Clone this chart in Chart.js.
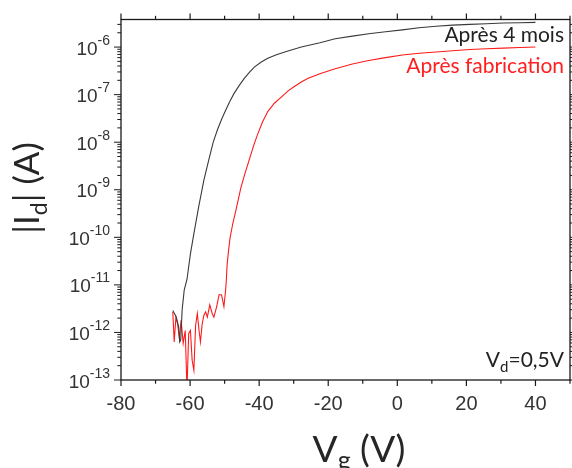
<!DOCTYPE html>
<html>
<head>
<meta charset="utf-8">
<script src="https://cdn.jsdelivr.net/npm/chart.js@4"></script>
<style>
  html, body { margin:0; padding:0; background:#fff; }
  canvas { display:block; }
</style>
</head>
<body>
<canvas id="c" width="572" height="468"></canvas>
<script>
// |Id| vs Vg
const vgApres4Mois = [-65.0,-64.0,-63.3,-63.0,-62.7,-62.3,-61.9,-61.7,-60.9,-60.4,-59.9,-58.9,-57.5,-56.0,-54.6,-53.3,-52.1,-50.9,-49.7,-48.5,-47.3,-45.8,-44.3,-42.9,-41.4,-39.5,-37.5,-35.0,-32.6,-30.2,-27.8,-22.4,-18.0,-13.0,-8.3,-3.4,1.5,6.3,11.2,16.0,21.0,25.8,30.7,35.5,40.0];
const idApres4Mois = [2.9e-12,2.1e-12,1.3e-12,6.3e-13,7e-13,3.0e-12,5.6e-12,7.8e-12,1.3e-11,2.4e-11,4.5e-11,1.2e-10,4.4e-10,1.6e-9,4.2e-9,1.0e-8,1.8e-8,3.0e-8,4.7e-8,7.2e-8,1.05e-7,1.55e-7,2.2e-7,2.9e-7,3.8e-7,4.8e-7,5.8e-7,6.9e-7,7.9e-7,8.9e-7,1.0e-6,1.23e-6,1.5e-6,1.7e-6,1.9e-6,2.1e-6,2.3e-6,2.55e-6,2.75e-6,2.9e-6,3.0e-6,3.1e-6,3.2e-6,3.25e-6,3.3e-6];

const vgFabrication = [-65.0,-64.6,-64.1,-63.6,-63.1,-62.6,-62.0,-61.4,-60.9,-60.4,-59.9,-59.4,-58.9,-58.4,-57.9,-57.4,-57.0,-56.5,-56.0,-55.5,-55.0,-54.3,-53.6,-53.1,-52.3,-51.6,-50.9,-50.2,-49.7,-49.5,-49.3,-48.9,-48.4,-47.6,-46.8,-45.3,-44.1,-42.9,-41.6,-40.4,-39.0,-37.5,-35.6,-33.6,-31.6,-29.7,-27.8,-25.8,-22.4,-18.0,-13.0,-8.3,-3.4,1.5,6.3,11.2,16.0,21.0,25.8,30.7,35.5,40.0];
const idFabrication = [2.7e-12,6.3e-13,2.1e-12,1.5e-12,7.6e-13,1.8e-12,5.9e-13,1.1e-12,6.3e-14,9.5e-13,1.1e-12,2.6e-13,1.6e-13,1.4e-12,2.5e-12,1.1e-12,6.3e-13,1.5e-12,2.3e-12,2.7e-12,2.1e-12,3.8e-12,2.5e-12,2.1e-12,3.5e-12,6.2e-12,6.2e-12,3.5e-12,7.9e-12,1.3e-11,2.5e-11,5e-11,1e-10,2e-10,3.5e-10,1.1e-9,2.2e-9,4.2e-9,8.5e-9,1.5e-8,2.7e-8,4.4e-8,6.6e-8,8.9e-8,1.2e-7,1.5e-7,1.85e-7,2.2e-7,2.75e-7,3.5e-7,4.4e-7,5.2e-7,6.0e-7,6.8e-7,7.4e-7,7.9e-7,8.4e-7,8.9e-7,9.2e-7,9.5e-7,9.8e-7,1.0e-6];

const xTicks = [-80,-60,-40,-20,0,20,40];
const xMinorTicks = [-70,-50,-30,-10,10,30,50];
const yDecades = [-13,-12,-11,-10,-9,-8,-7,-6];

const labelFont = '"Liberation Sans", Arial, sans-serif';
const textFont = 'Lato, "Open Sans", sans-serif';

// draw a run of text pieces (for sub/superscripts)
function drawRuns(ctx, runs, x, y, align){
  let w = 0;
  runs.forEach(r => { ctx.font = r.font; w += ctx.measureText(r.text).width; });
  let cx = align === 'right' ? x - w : align === 'center' ? x - w/2 : x;
  ctx.textAlign = 'left';
  ctx.textBaseline = 'alphabetic';
  runs.forEach(r => {
    ctx.font = r.font;
    ctx.fillText(r.text, cx, y + (r.dy || 0));
    cx += ctx.measureText(r.text).width;
  });
}

function seg(ctx, x1, y1, x2, y2){
  ctx.beginPath(); ctx.moveTo(x1,y1); ctx.lineTo(x2,y2); ctx.stroke();
}

const framePlugin = {
  id: 'frame',
  afterDraw(chart){
    const ctx = chart.ctx;
    const {left, right, top, bottom} = chart.chartArea;
    const xs = chart.scales.x, ys = chart.scales.y;
    ctx.save();
    ctx.strokeStyle = '#1a1a1a';
    ctx.lineWidth = 1.3;
    ctx.strokeRect(left, top, right-left, bottom-top);

    ctx.lineWidth = 1.2;
    xTicks.forEach(v => {
      const px = xs.getPixelForValue(v);
      seg(ctx, px, bottom, px, bottom+6);
      seg(ctx, px, top, px, top-6);
    });
    xMinorTicks.forEach(v => {
      const px = xs.getPixelForValue(v);
      seg(ctx, px, bottom, px, bottom+3.7);
      seg(ctx, px, top, px, top-3.7);
    });

    // log ticks
    ctx.lineWidth = 1;
    yDecades.forEach(e => {
      for (let m = 1; m <= 9; m++){
        const v = m * Math.pow(10, e);
        if (v < ys.min || v > ys.max) continue;
        const py = ys.getPixelForValue(v);
        const len = m === 1 ? 7 : 3.7;
        seg(ctx, left, py, left-len, py);
        seg(ctx, right, py, right+len, py);
      }
    });

    // tick labels
    ctx.fillStyle = '#333';
    ctx.font = '20px ' + labelFont;
    ctx.textAlign = 'center';
    ctx.textBaseline = 'alphabetic';
    xTicks.forEach(v => {
      ctx.fillText(String(v), xs.getPixelForValue(v), 409.5);
    });
    yDecades.forEach(e => {
      const py = ys.getPixelForValue(Math.pow(10, e));
      drawRuns(ctx, [
        {text:'10', font:'19px ' + labelFont, dy:7.6},
        {text:String(e), font:'14px ' + labelFont, dy:-2.4}
      ], 110, py, 'right');
    });

    // axis titles
    ctx.fillStyle = '#262626';
    drawRuns(ctx, [
      {text:'V', font:'37px ' + textFont},
      {text:'g', font:'25px ' + textFont, dy:7},
      {text:' (V)', font:'37px ' + textFont}
    ], 359, 461.5, 'center');

    ctx.save();
    ctx.translate(39, 188);
    ctx.rotate(-Math.PI/2);
    drawRuns(ctx, [
      {text:'|I', font:'35px ' + textFont},
      {text:'d', font:'23px ' + textFont, dy:8},
      {text:'| (A)', font:'35px ' + textFont}
    ], 0, 0, 'center');
    ctx.restore();

    // annotations
    ctx.fillStyle = '#222';
    drawRuns(ctx, [{text:'Après 4 mois', font:'21px ' + textFont}], 564, 41.5, 'right');
    ctx.fillStyle = '#ff2020';
    drawRuns(ctx, [{text:'Après fabrication', font:'21px ' + textFont}], 564, 72.5, 'right');
    ctx.fillStyle = '#222';
    drawRuns(ctx, [
      {text:'V', font:'21px ' + textFont},
      {text:'d', font:'15px ' + textFont, dy:5.5},
      {text:'=0,5V', font:'21px ' + textFont}
    ], 564, 366.5, 'right');

    ctx.restore();
  }
};

new Chart(document.getElementById('c'), {
  type: 'scatter',
  data: {
    datasets: [
      {
        label: 'Après 4 mois',
        data: vgApres4Mois.map((v, i) => ({x: v, y: idApres4Mois[i]})),
        showLine: true, borderColor: '#3a3a3a', borderWidth: 1.1,
        pointRadius: 0, tension: 0
      },
      {
        label: 'Après fabrication',
        data: vgFabrication.map((v, i) => ({x: v, y: idFabrication[i]})),
        showLine: true, borderColor: '#ff1a1a', borderWidth: 1.1,
        pointRadius: 0, tension: 0
      }
    ]
  },
  options: {
    responsive: false,
    animation: false,
    devicePixelRatio: 1,
    layout: { padding: { left: 121, right: 2, top: 19.5, bottom: 88 } },
    plugins: { legend: { display: false }, tooltip: { enabled: false } },
    scales: {
      x: { type: 'linear', min: -80, max: 50, display: false },
      y: { type: 'logarithmic', min: 1e-13, max: 3.8e-6, display: false }
    }
  },
  plugins: [framePlugin]
});
</script>
</body>
</html>
